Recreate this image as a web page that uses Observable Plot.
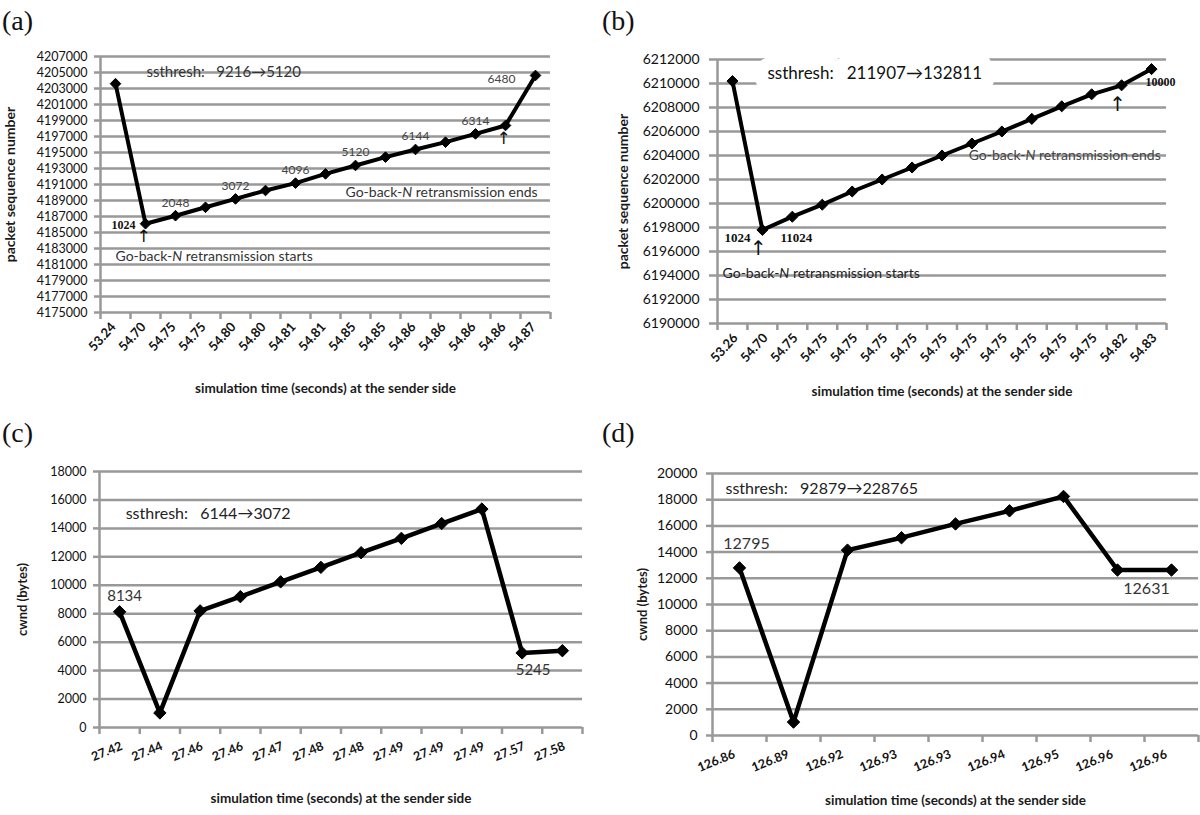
<!DOCTYPE html>
<html>
<head>
<meta charset="utf-8">
<script src="https://cdn.jsdelivr.net/npm/d3@7"></script>
<script src="https://cdn.jsdelivr.net/npm/@observablehq/plot@0.6"></script>
<style>
  body { margin: 0; background: #fff; }
  #root { position: relative; width: 1200px; height: 815px; overflow: hidden; font-family: Lato, sans-serif; }
  .panel { position: absolute; }
  .panel svg { background: transparent !important; }
  .tag { position: absolute; font-family: "Liberation Serif", "DejaVu Serif", serif; font-size: 28px; line-height: 32px; color: #111; z-index: 3; }
  .panel svg [aria-label^="x-axis"] line, .panel svg [aria-label^="x-axis"] path,
  .panel svg [aria-label^="y-axis"] line, .panel svg [aria-label^="y-axis"] path { stroke: #999; stroke-width: 2.5px; stroke-opacity: 1; }
</style>
</head>
<body>
<div id="root">
  <div class="panel" id="pa" style="left:0;top:0;width:600px;height:405px"></div>
  <div class="panel" id="pb" style="left:600px;top:0;width:600px;height:405px"></div>
  <div class="panel" id="pc" style="left:0;top:405px;width:600px;height:410px"></div>
  <div class="panel" id="pd" style="left:600px;top:405px;width:600px;height:410px"></div>
  <div class="tag" style="left:2px;top:5px">(a)</div>
  <div class="tag" style="left:602px;top:5px">(b)</div>
  <div class="tag" style="left:2px;top:417px">(c)</div>
  <div class="tag" style="left:602px;top:417px">(d)</div>
</div>
<script>
// ---------- data ----------
const aLabels = ["53.24","54.70","54.75","54.75","54.80","54.80","54.81","54.81","54.85","54.85","54.86","54.86","54.86","54.86","54.87"];
const aValues = [4203600,4186100,4187100,4188150,4189200,4190250,4191170,4192330,4193380,4194420,4195380,4196290,4197330,4198380,4204630];
const aYTicks = [4175000,4177000,4179000,4181000,4183000,4185000,4187000,4189000,4191000,4193000,4195000,4197000,4199000,4201000,4203000,4205000,4207000];
const aPointLabels = [{i:2,text:"2048"},{i:4,text:"3072"},{i:6,text:"4096"},{i:8,text:"5120"},{i:10,text:"6144"},{i:12,text:"6314"}];
const aLastLabel = [{i:14,text:"6480"}];
const aStartLabel = [{i:1,text:"1024"}];
const aArrows = [{i:1,text:"↑"},{i:13,text:"↑"}];

const bLabels = ["53.26","54.70","54.75","54.75","54.75","54.75","54.75","54.75","54.75","54.75","54.75","54.75","54.75","54.82","54.83"];
const bValues = [6210200,6197800,6198900,6199900,6201000,6202000,6203000,6204000,6205000,6206000,6207050,6208100,6209100,6209850,6211200];
const bYTicks = [6190000,6192000,6194000,6196000,6198000,6200000,6202000,6204000,6206000,6208000,6210000,6212000];
const bLeftLabel = [{i:1,text:"1024"}];
const bRightLabel = [{i:1,text:"11024"}];
const bEndLabel = [{i:14,text:"10000"}];
const bArrows = [{i:1,text:"↑"},{i:13,text:"↑"}];

const cLabels = ["27.42","27.44","27.46","27.46","27.47","27.48","27.48","27.49","27.49","27.49","27.57","27.58"];
const cValues = [8134,1024,8200,9200,10240,11260,12290,13300,14340,15360,5245,5400];
const cYTicks = [0,2000,4000,6000,8000,10000,12000,14000,16000,18000];
const cTopLabel = [{i:0,text:"8134"}];
const cBottomLabel = [{i:10,text:"5245"}];

const dLabels = ["126.86","126.89","126.92","126.93","126.93","126.94","126.95","126.96","126.96"];
const dValues = [12795,1024,14150,15100,16150,17150,18250,12631,12631];
const dYTicks = [0,2000,4000,6000,8000,10000,12000,14000,16000,18000,20000];
const dTopLabel = [{i:0,text:"12795"}];
const dBottomLabel = [{i:8,text:"12631"}];

const yTitleSeq = "packet sequence number";
const yTitleCwnd = "cwnd (bytes)";
const xTitle = "simulation time (seconds) at the sender side";
const NB = "\u00a0";
const aSsthresh = "ssthresh:" + NB + NB + NB + "9216→5120";
const bSsthresh = "ssthresh:" + NB + NB + NB + "211907→132811";
const cSsthresh = "ssthresh:" + NB + NB + NB + "6144→3072";
const dSsthresh = "ssthresh:" + NB + NB + NB + "92879→228765";
const gbnStarts = "Go-back-N retransmission starts";
const gbnEnds = "Go-back-N retransmission ends";

// ---------- helpers ----------
const GRID = "#999";
const FONT = "Lato, 'Open Sans', sans-serif";
const SERIF = "'Liberation Serif', 'DejaVu Serif', serif";

function ann(text, x, y, opt) {
  return Plot.text([text], {x: () => x, y: () => y, fontFamily: FONT, fill: "#222", ...opt});
}
function ptText(pts, items, opt) {
  return Plot.text(items, {x: d => pts[d.i].x, y: d => pts[d.i].v, text: "text", fontFamily: FONT, fill: "#222", ...opt});
}

function panelPlot(o) {
  const n = o.labels.length;
  const pts = o.values.map((v, i) => ({x: i + 0.5, v}));
  const ticksX = o.labels.map((t, i) => ({x: i + 0.5, t}));
  const marks = [
    Plot.ruleY(o.yTicks, {stroke: GRID, strokeWidth: 2.5}),
    ...(o.under ? o.under(pts) : []),
    Plot.ruleX([0], {stroke: GRID, strokeWidth: 2.5}),
    Plot.line(pts, {x: "x", y: "v", stroke: "#000", strokeWidth: o.lw, strokeLinejoin: "round"}),
    Plot.dot(pts, {x: "x", y: "v", symbol: "diamond2", r: o.r, fill: "#000", stroke: "#000", strokeWidth: 1}),
    Plot.text(ticksX, {x: "x", y: () => o.yTicks[0], text: "t", rotate: o.rot, textAnchor: "end",
      dx: o.tdx, dy: o.tdy, fontSize: o.tfs, fontWeight: "bold", fill: "#111", fontFamily: FONT}),
    Plot.text([o.yTitle], {frameAnchor: "left", textAnchor: "middle", lineAnchor: "middle", rotate: -90, dx: o.ytdx,
      fontSize: o.ytfs, fontWeight: "bold", fill: "#1a1a1a", fontFamily: FONT}),
    Plot.text([xTitle], {frameAnchor: "bottom", textAnchor: "middle", lineAnchor: "middle", dy: o.xtdy,
      fontSize: 13.5, fontWeight: "bold", fill: "#1a1a1a", fontFamily: FONT}),
    ...(o.extra ? o.extra(pts) : [])
  ];
  const svg = Plot.plot({
    width: o.width, height: o.height,
    marginTop: o.m[0], marginRight: o.m[1], marginBottom: o.m[2], marginLeft: o.m[3],
    x: {domain: [0, n], ticks: d3.range(n + 1), tickFormat: () => "", tickSize: 7, label: null},
    y: {domain: [o.yTicks[0], o.yTicks[o.yTicks.length - 1]], ticks: o.yTicks, tickFormat: d => String(d),
        tickSize: o.ytsz, tickPadding: o.ytpad, label: null},
    style: {fontFamily: FONT, fontSize: o.yfs + "px", color: "#111", background: "transparent", overflow: "visible"},
    marks
  });
  // italic N
  for (const t of svg.querySelectorAll("text")) {
    const s = t.textContent;
    if (s.includes("Go-back-N")) {
      const rest = s.split("Go-back-N")[1];
      t.textContent = "";
      t.append(document.createTextNode("Go-back-"));
      const ts = document.createElementNS("http://www.w3.org/2000/svg", "tspan");
      ts.setAttribute("font-style", "italic");
      ts.textContent = "N";
      t.append(ts);
      t.append(document.createTextNode(rest));
    }
  }
  return svg;
}

// ---------- panel (a) ----------
document.getElementById("pa").append(panelPlot({
  labels: aLabels, values: aValues, yTicks: aYTicks,
  width: 600, height: 405, m: [56, 50, 93, 100],
  lw: 4, r: 4.8, rot: -48, tdx: -2, tdy: 12, tfs: 13,
  yfs: 12.5, ytsz: 6, ytpad: 7,
  yTitle: yTitleSeq, ytdx: -90, ytfs: 14, xtdy: 76,
  extra: pts => [
    ann(aSsthresh, 1.53, 4205000, {textAnchor: "start", fontSize: 15, fill: "#333"}),
    ann(gbnEnds, 14.57, 4190000, {textAnchor: "end", fontSize: 14, fill: "#333"}),
    ann(gbnStarts, 0.5, 4182000, {textAnchor: "start", fontSize: 14, fill: "#333"}),
    ptText(pts, aPointLabels, {dy: -13, fontSize: 12, fill: "#444"}),
    ptText(pts, aLastLabel, {dx: -34, dy: 4, fontSize: 12, fill: "#444"}),
    ptText(pts, aStartLabel, {dx: -22, dy: 1, fontSize: 12, fontWeight: "bold", fontFamily: SERIF, fill: "#111"}),
    ptText(pts, aArrows, {dx: -2, dy: 13, fontSize: 17, fontFamily: "'DejaVu Sans', sans-serif", fill: "#111"})
  ]
}));

// ---------- panel (b) ----------
document.getElementById("pb").append(panelPlot({
  labels: bLabels, values: bValues, yTicks: bYTicks,
  width: 600, height: 405, m: [59, 34, 82, 117],
  lw: 4, r: 5, rot: -48, tdx: 3, tdy: 12, tfs: 13,
  yfs: 14, ytsz: 8, ytpad: 10,
  yTitle: yTitleSeq, ytdx: -94, ytfs: 14, xtdy: 68,
  under: pts => [
    ann(bSsthresh, 1.67, 6210850, {textAnchor: "start", fontSize: 17, fill: "white", stroke: "white", strokeWidth: 26, strokeLinejoin: "round"})
  ],
  extra: pts => [
    ann(bSsthresh, 1.67, 6210850, {textAnchor: "start", fontSize: 17, fill: "#111"}),
    ann(gbnEnds, 8.39, 6204000, {textAnchor: "start", fontSize: 14, fill: "#444"}),
    ann(gbnStarts, 0.17, 6194200, {textAnchor: "start", fontSize: 14, fill: "#222"}),
    ptText(pts, bLeftLabel, {dx: -25, dy: 8, fontSize: 13, fontWeight: "bold", fontFamily: SERIF, fill: "#111"}),
    ptText(pts, bRightLabel, {dx: 34, dy: 8, fontSize: 13, fontWeight: "bold", fontFamily: SERIF, fill: "#111"}),
    ptText(pts, bEndLabel, {dx: 9, dy: 13, fontSize: 12, fontWeight: "bold", fontFamily: SERIF, fill: "#111"}),
    ptText(pts, bArrows, {dx: -4, dy: 19, fontSize: 20, fontFamily: "'DejaVu Sans', sans-serif", fill: "#111"})
  ]
}));

// ---------- panel (c) ----------
document.getElementById("pc").append(panelPlot({
  labels: cLabels, values: cValues, yTicks: cYTicks,
  width: 600, height: 410, m: [66, 18, 88, 99],
  lw: 4.5, r: 5.6, rot: -22, tdx: 2, tdy: 18, tfs: 12.5,
  yfs: 12.5, ytsz: 6, ytpad: 7,
  yTitle: yTitleCwnd, ytdx: -77, ytfs: 13, xtdy: 71,
  extra: pts => [
    ann(cSsthresh, 0.65, 15000, {textAnchor: "start", fontSize: 16, fill: "#222"}),
    ptText(pts, cTopLabel, {dx: 5, dy: -16, fontSize: 15, fill: "#333"}),
    ptText(pts, cBottomLabel, {dx: 11, dy: 17, fontSize: 15, fill: "#333"})
  ]
}));

// ---------- panel (d) ----------
document.getElementById("pd").append(panelPlot({
  labels: dLabels, values: dValues, yTicks: dYTicks,
  width: 600, height: 410, m: [68, 2, 80, 112],
  lw: 4.5, r: 5.6, rot: -22, tdx: -5, tdy: 18, tfs: 12.5,
  yfs: 14, ytsz: 6, ytpad: 9,
  yTitle: yTitleCwnd, ytdx: -70, ytfs: 13, xtdy: 65,
  extra: pts => [
    ann(dSsthresh, 0.24, 18800, {textAnchor: "start", fontSize: 16, fill: "#222"}),
    ptText(pts, dTopLabel, {dx: 7, dy: -24, fontSize: 16, fill: "#333"}),
    ptText(pts, dBottomLabel, {dx: -25, dy: 19, fontSize: 16, fill: "#333"})
  ]
}));
</script>
</body>
</html>
